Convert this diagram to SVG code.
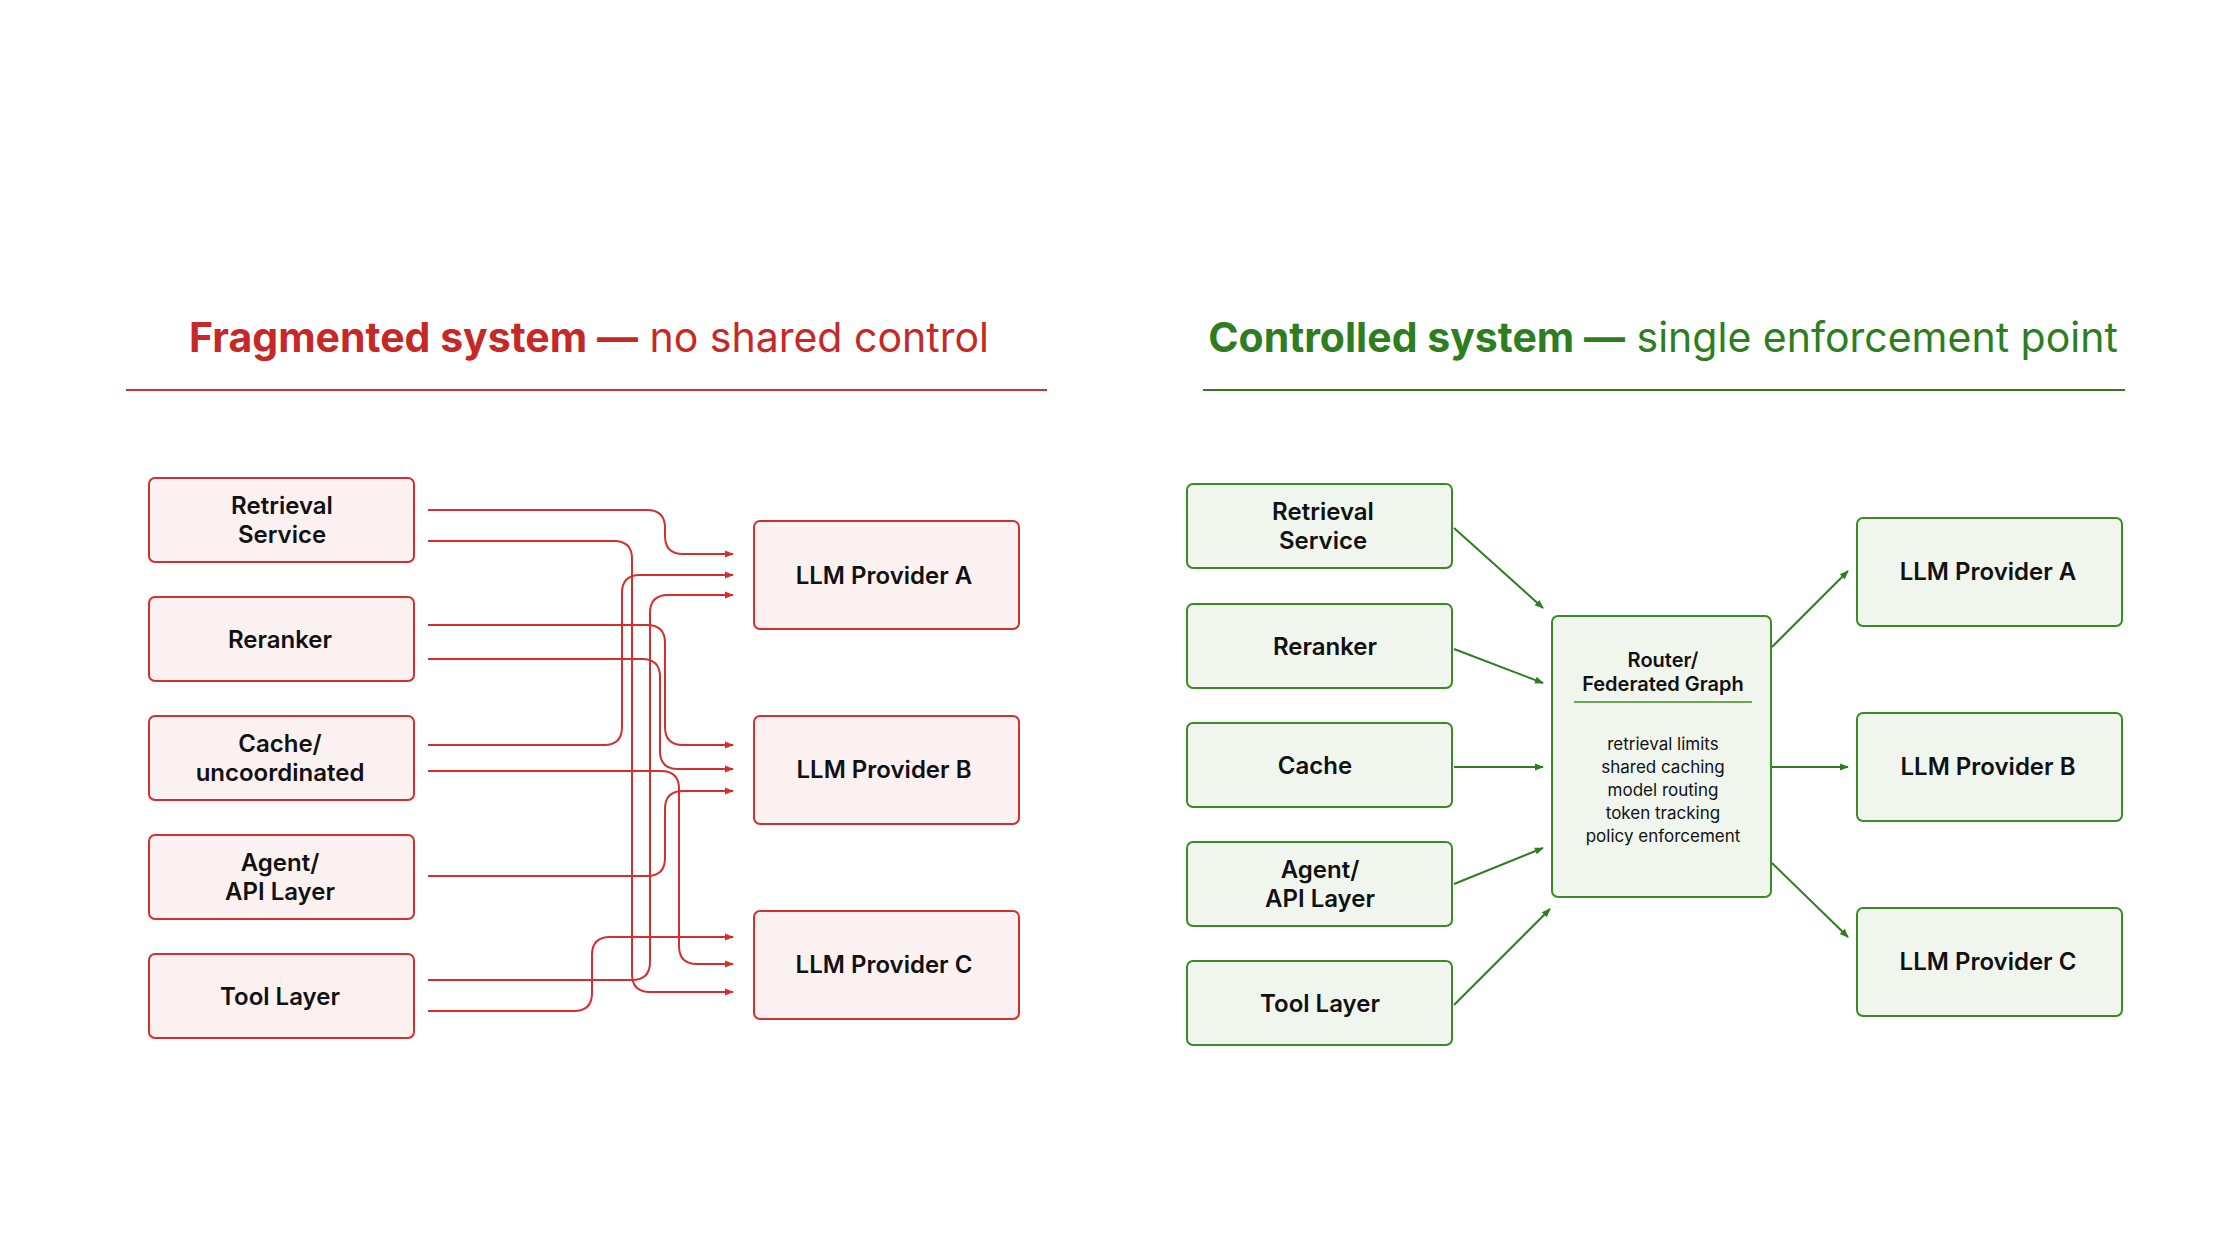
<svg xmlns="http://www.w3.org/2000/svg" width="2240" height="1260" viewBox="0 0 2240 1260">
<defs>
<marker id="ar" viewBox="0 0 10 10" refX="9" refY="5" markerWidth="9" markerHeight="9" markerUnits="userSpaceOnUse" orient="auto"><path d="M0,1 L10,5 L0,9 Z" fill="#d32f2f"/></marker>
<marker id="ag" viewBox="0 0 10 10" refX="9" refY="5" markerWidth="9" markerHeight="9" markerUnits="userSpaceOnUse" orient="auto"><path d="M0,1 L10,5 L0,9 Z" fill="#2e7d1f"/></marker>
<style>
text{font-family:Inter,"Noto Sans",sans-serif;text-anchor:middle;fill:#111}
.rb{fill:#fcf1f1;stroke:#d32f2f;stroke-width:2}
.gb{fill:#f0f6ee;stroke:#3a8a25;stroke-width:2}
.lbl{font-size:24px;font-weight:600}
.rl{fill:none;stroke:#d32f2f;stroke-width:2}
.gl{fill:none;stroke:#2e7d1f;stroke-width:2}
.body{font-size:17px}
</style>
</defs>
<rect width="2240" height="1260" fill="#fff"/>
<g id="title-left"><text x="589" y="352" style="font-size:41px"><tspan font-weight="700" fill="#c62828">Fragmented system —</tspan><tspan fill="#c62828"> no shared control</tspan></text>
<line x1="126" y1="390" x2="1047" y2="390" stroke="#d32f2f" stroke-width="2"/></g>
<g id="title-right"><text x="1663" y="352" style="font-size:41px"><tspan font-weight="700" fill="#2e7d1f">Controlled system —</tspan><tspan fill="#2e7d1f"> single enforcement point</tspan></text>
<line x1="1203" y1="390" x2="2125" y2="390" stroke="#2e7d1f" stroke-width="2"/></g>

<g id="l-retrieval"><rect class="rb" x="149" y="478" width="265" height="84" rx="6"/><text class="lbl" x="282" y="514">Retrieval</text><text class="lbl" x="282" y="543">Service</text></g>
<g id="l-reranker"><rect class="rb" x="149" y="597" width="265" height="84" rx="6"/><text class="lbl" x="280" y="648">Reranker</text></g>
<g id="l-cache"><rect class="rb" x="149" y="716" width="265" height="84" rx="6"/><text class="lbl" x="280" y="752">Cache/</text><text class="lbl" x="280" y="781">uncoordinated</text></g>
<g id="l-agent"><rect class="rb" x="149" y="835" width="265" height="84" rx="6"/><text class="lbl" x="280" y="871">Agent/</text><text class="lbl" x="280" y="900">API Layer</text></g>
<g id="l-tool"><rect class="rb" x="149" y="954" width="265" height="84" rx="6"/><text class="lbl" x="280" y="1005">Tool Layer</text></g>
<g id="l-provA"><rect class="rb" x="754" y="521" width="265" height="108" rx="6"/><text class="lbl" x="884" y="584">LLM Provider A</text></g>
<g id="l-provB"><rect class="rb" x="754" y="716" width="265" height="108" rx="6"/><text class="lbl" x="884" y="778">LLM Provider B</text></g>
<g id="l-provC"><rect class="rb" x="754" y="911" width="265" height="108" rx="6"/><text class="lbl" x="884" y="973">LLM Provider C</text></g>

<g id="l-connectors">
<path class="rl" marker-end="url(#ar)" d="M428,510 H647 Q665,510 665,528 V536 Q665,554 683,554 H733"/>
<path class="rl" marker-end="url(#ar)" d="M428,541 H614 Q632,541 632,559 V974 Q632,992 650,992 H733"/>
<path class="rl" marker-end="url(#ar)" d="M428,625 H647 Q665,625 665,643 V727 Q665,745 683,745 H733"/>
<path class="rl" marker-end="url(#ar)" d="M428,659 H642 Q660,659 660,677 V751 Q660,769 678,769 H733"/>
<path class="rl" marker-end="url(#ar)" d="M428,745 H604 Q622,745 622,727 V593 Q622,575 640,575 H733"/>
<path class="rl" marker-end="url(#ar)" d="M428,771 H661 Q679,771 679,789 V946 Q679,964 697,964 H733"/>
<path class="rl" marker-end="url(#ar)" d="M428,876 H647 Q665,876 665,858 V809 Q665,791 683,791 H733"/>
<path class="rl" marker-end="url(#ar)" d="M428,980 H632 Q650,980 650,962 V613 Q650,595 668,595 H733"/>
<path class="rl" marker-end="url(#ar)" d="M428,1011 H574 Q592,1011 592,993 V955 Q592,937 610,937 H733"/>
</g>

<g id="r-retrieval"><rect class="gb" x="1187" y="484" width="265" height="84" rx="6"/><text class="lbl" x="1323" y="520">Retrieval</text><text class="lbl" x="1323" y="549">Service</text></g>
<g id="r-reranker"><rect class="gb" x="1187" y="604" width="265" height="84" rx="6"/><text class="lbl" x="1325" y="655">Reranker</text></g>
<g id="r-cache"><rect class="gb" x="1187" y="723" width="265" height="84" rx="6"/><text class="lbl" x="1315" y="774">Cache</text></g>
<g id="r-agent"><rect class="gb" x="1187" y="842" width="265" height="84" rx="6"/><text class="lbl" x="1320" y="878">Agent/</text><text class="lbl" x="1320" y="907">API Layer</text></g>
<g id="r-tool"><rect class="gb" x="1187" y="961" width="265" height="84" rx="6"/><text class="lbl" x="1320" y="1012">Tool Layer</text></g>
<g id="r-router"><rect class="gb" x="1552" y="616" width="219" height="281" rx="6"/>
<text x="1663" y="667" style="font-size:20px;font-weight:600">Router/</text><text x="1663" y="691" style="font-size:20px;font-weight:600">Federated Graph</text>
<line x1="1574" y1="702" x2="1752" y2="702" stroke="#6aa84f" stroke-width="2"/>
<text class="body" x="1663" y="750">retrieval limits</text><text class="body" x="1663" y="773">shared caching</text><text class="body" x="1663" y="796">model routing</text><text class="body" x="1663" y="819">token tracking</text><text class="body" x="1663" y="842">policy enforcement</text></g>
<g id="r-provA"><rect class="gb" x="1857" y="518" width="265" height="108" rx="6"/><text class="lbl" x="1988" y="580">LLM Provider A</text></g>
<g id="r-provB"><rect class="gb" x="1857" y="713" width="265" height="108" rx="6"/><text class="lbl" x="1988" y="775">LLM Provider B</text></g>
<g id="r-provC"><rect class="gb" x="1857" y="908" width="265" height="108" rx="6"/><text class="lbl" x="1988" y="970">LLM Provider C</text></g>

<g id="r-connectors">
<line class="gl" marker-end="url(#ag)" x1="1454" y1="528" x2="1543" y2="608"/>
<line class="gl" marker-end="url(#ag)" x1="1454" y1="649" x2="1543" y2="683"/>
<line class="gl" marker-end="url(#ag)" x1="1454" y1="767" x2="1543" y2="767"/>
<line class="gl" marker-end="url(#ag)" x1="1454" y1="884" x2="1543" y2="848"/>
<line class="gl" marker-end="url(#ag)" x1="1454" y1="1005" x2="1550" y2="909"/>
<line class="gl" marker-end="url(#ag)" x1="1772" y1="647" x2="1848" y2="571"/>
<line class="gl" marker-end="url(#ag)" x1="1772" y1="767" x2="1848" y2="767"/>
<line class="gl" marker-end="url(#ag)" x1="1772" y1="863" x2="1848" y2="937"/>
</g>
</svg>
